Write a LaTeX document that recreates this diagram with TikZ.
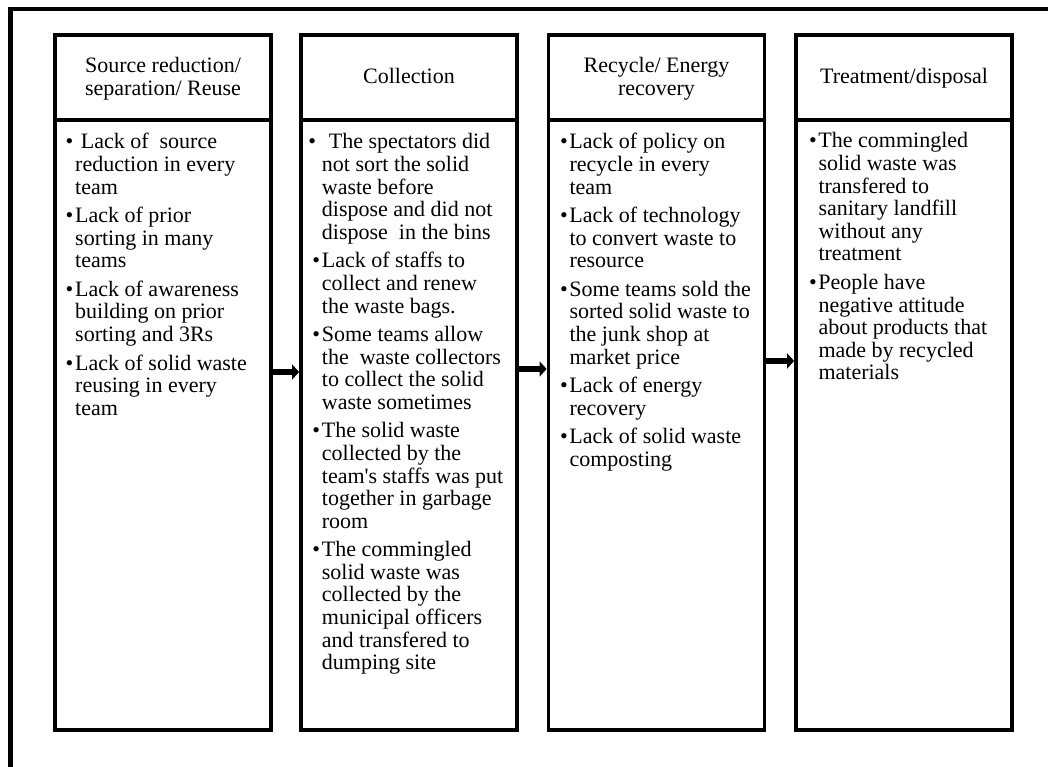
\documentclass[tikz,border=0pt]{standalone}
\usepackage{fontspec}
\setmainfont{Liberation Serif}
\usetikzlibrary{arrows.meta}

% bullet column width and helpers for the bullet lists
\newlength\bi
\setlength\bi{9.5pt}
\newcommand\bt{\makebox[\bi][l]{\textbullet}}
\newcommand\ct{\hspace*{\bi}}
\newcommand\gap{\\[5.9pt]}

\tikzset{
  x=1pt, y=-1pt,
  frame/.style={line width=4.2pt},
  hd/.style={draw, line width=3.8pt, minimum width=216pt, minimum height=85pt,
    inner sep=0pt},
  hdlabel/.style={inner sep=0pt, font=\fontsize{22}{22.3}\selectfont},
  bd/.style={draw, line width=3.8pt, minimum width=216pt, minimum height=610pt,
    inner sep=0pt},
  txt/.style={anchor=base west, inner sep=0pt, font=\fontsize{22}{22.6}\selectfont},
  fatarrow/.style={line width=6pt, -{Triangle[length=7pt,width=15pt]}}
}

\begin{document}
\begin{tikzpicture}
\useasboundingbox (0,0) rectangle (1048,767);
\clip (0,0) rectangle (1048,767);

% outer frame (only its left and top sides lie inside the page)
\draw[frame] (10.5,800) -- (10.5,9.3) -- (1080,9.3);

% column header boxes
\node[hd] (h1) at (163,77.5)   {};
\node[hd] (h2) at (409,77.5)   {};
\node[hd] (h3) at (656.5,77.5) {};
\node[hd] (h4) at (904,77.5)   {};

% header titles (rows of fixed height keep the baselines even)
\node[hdlabel] (l1) at (163,79.5)   {\begin{tabular}{@{}c@{}}Source reduction/\\separation/ Reuse\end{tabular}};
\node[hdlabel] (l2) at (409,79.5)   {\begin{tabular}{@{}c@{}}Collection\end{tabular}};
\node[hdlabel] (l3) at (656.5,79.5) {\begin{tabular}{@{}c@{}}Recycle/ Energy\\recovery\end{tabular}};
\node[hdlabel] (l4) at (904,79.5)   {\begin{tabular}{@{}c@{}}Treatment/disposal\end{tabular}};

% column bodies
\node[bd] (c1) at (163,425)   {};
\node[bd] (c2) at (409,425)   {};
\node[bd] (c3) at (656.5,425) {};
\node[bd] (c4) at (904,425)   {};

% bullet lists
\node[txt] (t1) at (65.5,149) {\begin{tabular}[t]{@{}l@{}}
\bt\hspace{5.7pt}Lack of~ source\\
\ct reduction in every\\
\ct team\gap
\bt Lack of prior\\
\ct sorting in many\\
\ct teams\gap
\bt Lack of awareness\\
\ct building on prior\\
\ct sorting and 3Rs\gap
\bt Lack of solid waste\\
\ct reusing in every\\
\ct team
\end{tabular}};

\node[txt] (t2) at (312.2,149) {\begin{tabular}[t]{@{}l@{}}
\hspace{-4pt}\bt\hspace{11pt}The spectators did\\
\ct not sort the solid\\
\ct waste before\\
\ct dispose and did not\\
\ct dispose~ in the bins\gap
\bt Lack of staffs to\\
\ct collect and renew\\
\ct the waste bags.\gap
\bt Some teams allow\\
\ct the~ waste collectors\\
\ct to collect the solid\\
\ct waste sometimes\gap
\bt The solid waste\\
\ct collected by the\\
\ct team\textquotesingle s staffs was put\\
\ct together in garbage\\
\ct room\gap
\bt The commingled\\
\ct solid waste was\\
\ct collected by the\\
\ct municipal officers\\
\ct and transfered to\\
\ct dumping site
\end{tabular}};

\node[txt] (t3) at (559.8,149) {\begin{tabular}[t]{@{}l@{}}
\bt Lack of policy on\\
\ct recycle in every\\
\ct team\gap
\bt Lack of technology\\
\ct to convert waste to\\
\ct resource\gap
\bt Some teams sold the\\
\ct sorted solid waste to\\
\ct the junk shop at\\
\ct market price\gap
\bt Lack of energy\\
\ct recovery\gap
\bt Lack of solid waste\\
\ct composting
\end{tabular}};

\node[txt] (t4) at (808.8,148) {\begin{tabular}[t]{@{}l@{}}
\bt The commingled\\
\ct solid waste was\\
\ct transfered to\\
\ct sanitary landfill\\
\ct without any\\
\ct treatment\gap
\bt People have\\
\ct negative attitude\\
\ct about products that\\
\ct made by recycled\\
\ct materials
\end{tabular}};

% flow arrows between the stages
\draw[fatarrow] (c1.east |- 0,372) -- (c2.west |- 0,372);
\draw[fatarrow] (c2.east |- 0,369) -- (c3.west |- 0,369);
\draw[fatarrow] (c3.east |- 0,361) -- (c4.west |- 0,361);
\end{tikzpicture}
\end{document}
